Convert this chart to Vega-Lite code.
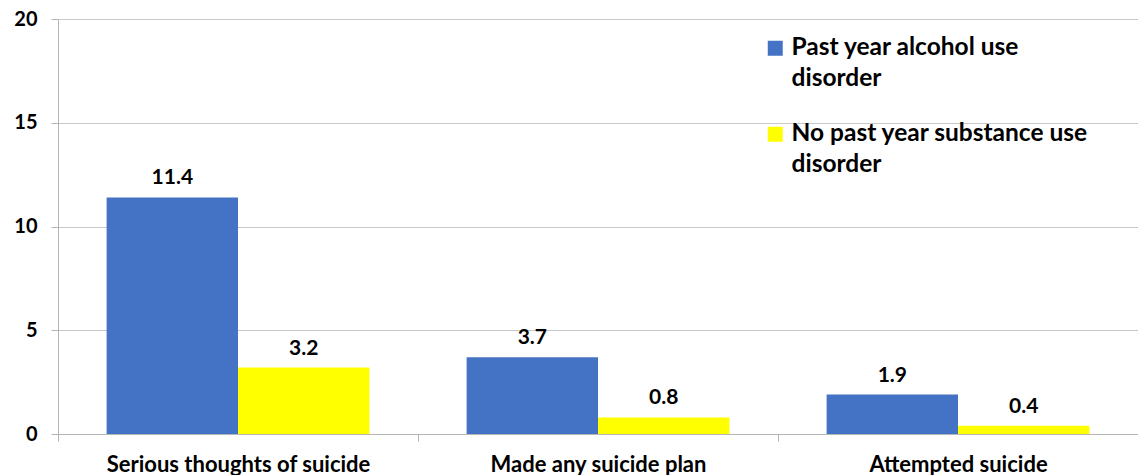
{
  "$schema": "https://vega.github.io/schema/vega-lite/v6.json",
  "width": 1080,
  "height": 415,
  "autosize": {"type": "none"},
  "padding": {"left": 58, "top": 19, "right": 0, "bottom": 41},
  "background": "white",
  "config": {"view": {"stroke": null}, "font": "Lato"},
  "data": {
    "values": [
      {"cat": "Serious thoughts of suicide", "grp": "Past year alcohol use disorder", "v": 11.4},
      {"cat": "Serious thoughts of suicide", "grp": "No past year substance use disorder", "v": 3.2},
      {"cat": "Made any suicide plan", "grp": "Past year alcohol use disorder", "v": 3.7},
      {"cat": "Made any suicide plan", "grp": "No past year substance use disorder", "v": 0.8},
      {"cat": "Attempted suicide", "grp": "Past year alcohol use disorder", "v": 1.9},
      {"cat": "Attempted suicide", "grp": "No past year substance use disorder", "v": 0.4}
    ]
  },
  "encoding": {
    "x": {
      "field": "cat",
      "type": "nominal",
      "sort": ["Serious thoughts of suicide", "Made any suicide plan", "Attempted suicide"],
      "scale": {"paddingInner": 0, "paddingOuter": 0},
      "axis": {
        "title": null,
        "labelAngle": 0,
        "labelFont": "Lato",
        "labelFontSize": 22,
        "labelFontWeight": "bold",
        "labelColor": "black",
        "labelLimit": 0,
        "tickBand": "extent",
        "tickSize": 7,
        "tickColor": "#b4b4b4",
        "domainColor": "#b4b4b4",
        "labelPadding": 13,
        "grid": false
      }
    },
    "xOffset": {
      "field": "grp",
      "type": "nominal",
      "sort": ["Past year alcohol use disorder", "No past year substance use disorder"],
      "scale": {"paddingInner": 0, "paddingOuter": 0.37}
    },
    "y": {
      "field": "v",
      "type": "quantitative",
      "scale": {"domain": [0, 20], "nice": false},
      "axis": {
        "title": null,
        "values": [0, 5, 10, 15, 20],
        "labelFont": "Lato",
        "labelFontSize": 20,
        "labelFontWeight": "bold",
        "labelColor": "black",
        "tickSize": 7,
        "tickColor": "#b4b4b4",
        "domainColor": "#b4b4b4",
        "gridColor": "#c8c8c8",
        "grid": true,
        "labelPadding": 14
      }
    }
  },
  "layer": [
    {
      "mark": {"type": "bar"},
      "encoding": {
        "color": {
          "field": "grp",
          "type": "nominal",
          "sort": ["Past year alcohol use disorder", "No past year substance use disorder"],
          "scale": {"domain": ["Past year alcohol use disorder", "No past year substance use disorder"], "range": ["#4472C4", "#FFFF00"]},
          "legend": {
            "title": null,
            "orient": "none",
            "legendX": 705,
            "legendY": 17,
            "symbolType": "square",
            "symbolSize": 225,
            "symbolStrokeWidth": 0,
            "labelFont": "Lato",
            "labelFontSize": 24.5,
            "labelFontWeight": "bold",
            "labelColor": "black",
            "labelLimit": 500,
            "labelOffset": 4,
            "rowPadding": 30,
            "labelExpr": "datum.label == 'Past year alcohol use disorder' ? ['Past year alcohol use', 'disorder'] : ['No past year substance use', 'disorder']",
            "encode": {"labels": {"update": {"lineHeight": {"value": 31}}}}
          }
        }
      }
    },
    {
      "mark": {"type": "text", "dy": -19, "fontSize": 21, "fontWeight": "bold", "font": "Lato", "color": "black"},
      "encoding": {"text": {"field": "v", "type": "quantitative", "format": ".1f"}}
    }
  ]
}
